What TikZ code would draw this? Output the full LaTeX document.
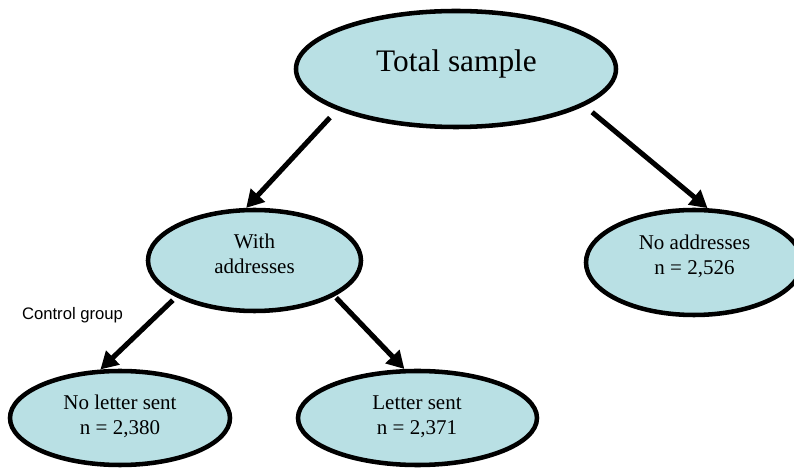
\documentclass[tikz,border=0pt]{standalone}
\usepackage{fontspec}
\setmainfont{Liberation Serif}
\setsansfont{Liberation Sans}
\usetikzlibrary{shapes.geometric, arrows.meta}

\definecolor{bubblefill}{RGB}{185,224,228}

\tikzset{
  bubble/.style={ellipse, draw=black, line width=3.4pt, fill=bubblefill},
  lbl/.style={align=center, inner sep=0pt, font=\fontsize{15.75}{18.75}\selectfont},
  arr/.style={-{Triangle[length=13pt, width=14pt]}, line width=3.8pt}
}

\begin{document}
\begin{tikzpicture}[x=0.75pt, y=-0.75pt]
    \useasboundingbox (0,0) rectangle (794,470);

    % Ellipses
    \node[bubble, minimum width=240pt, minimum height=87pt] (total) at (456,69) {};
    \node[bubble, minimum width=159.75pt, minimum height=75.75pt] (with) at (254.5,260.5) {};
    \node[bubble, minimum width=162pt, minimum height=78.75pt] (noaddr) at (694,262.5) {};
    \node[bubble, minimum width=165pt, minimum height=70.5pt] (noletter) at (120,418) {};
    \node[bubble, minimum width=179.25pt, minimum height=70.5pt] (letter) at (417.5,418) {};

    % Texts
    \node[lbl, font=\fontsize{23.5}{28}\selectfont] (totaltext) at (456.5,64) {Total sample};
    \node[lbl] (withtext) at (254.5,254) {With\\addresses};
    \node[lbl] (noaddrtext) at (694.5,256) {No addresses\\n = 2,526};
    \node[lbl] (nolettertext) at (120,416.5) {No letter sent\\n = 2,380};
    \node[lbl] (lettertext) at (417,417) {Letter sent\\n = 2,371};
    \node[font=\sffamily\fontsize{12.5}{15}\selectfont, inner sep=0pt] (control) at (72.5,315) {Control group};

    % Arrows
    \draw[arr, shorten <=7.8pt] (total.199.7) -- (with.99.5);
    \draw[arr, shorten <=7.5pt] (total.-16) -- (noaddr.76);
    \draw[arr, shorten <=3.4pt] (with.205) -- (noletter.112);
    \draw[arr, shorten <=1.6pt] (with.-24.4) -- (letter.105);
\end{tikzpicture}
\end{document}
